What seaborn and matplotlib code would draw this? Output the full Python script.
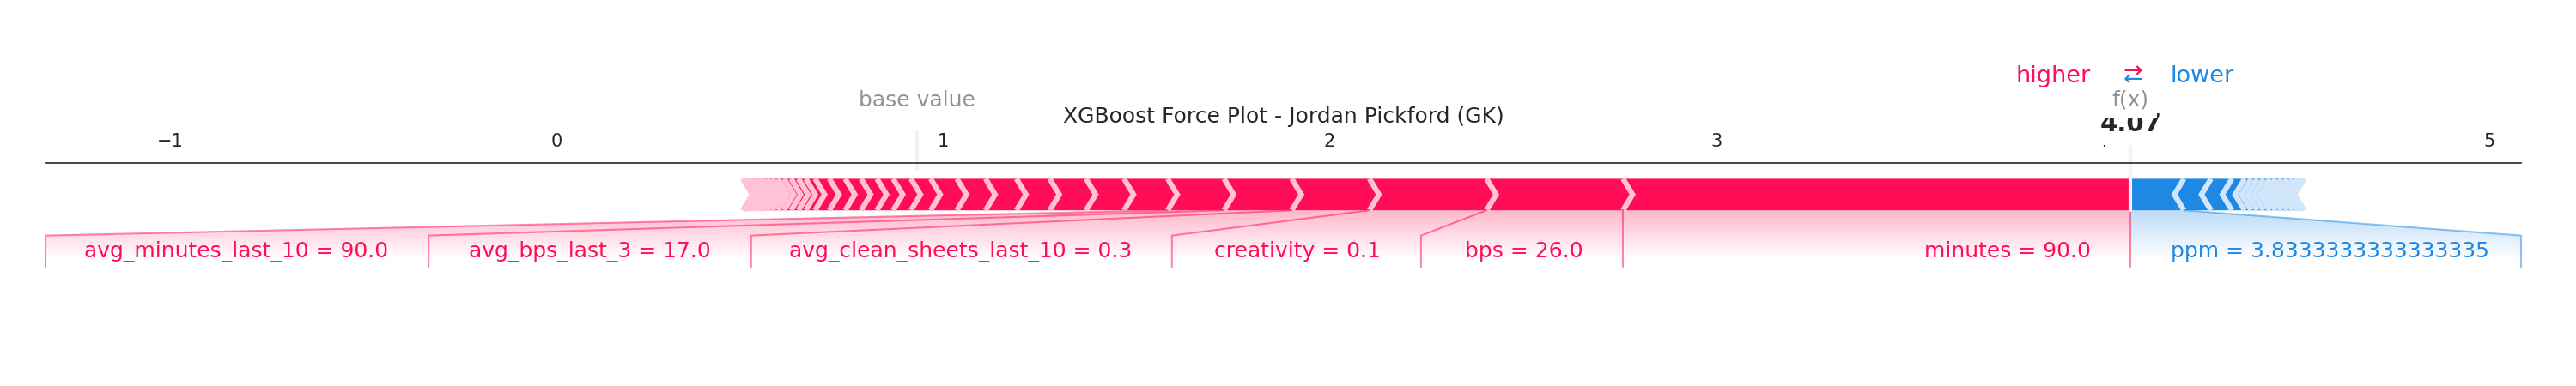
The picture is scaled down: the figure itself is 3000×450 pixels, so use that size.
import numpy as np
import matplotlib
matplotlib.use("Agg")
import matplotlib.pyplot as plt
import matplotlib.lines as lines
import matplotlib.colors as mcolors
from matplotlib.path import Path
from matplotlib.patches import PathPatch, Polygon
from matplotlib.font_manager import FontProperties
import seaborn as sns

# ---------------- data ----------------
TITLE = "XGBoost Force Plot - Jordan Pickford (GK)"
OUT_NAME = "f(x)"
BASE_VALUE = 0.932
OUT_VALUE = 4.072

# labelled features pushing the prediction higher
pos_names = ["minutes", "bps", "creativity", "avg_clean_sheets_last_10",
             "avg_bps_last_3", "avg_minutes_last_10"]
pos_values = ["90.0", "26.0", "0.1", "0.3", "17.0", "90.0"]
pos_effects = [1.313, 0.353, 0.303, 0.201, 0.175, 0.146]
# small unlabelled positive contributions
pos_minor_effects = [0.113, 0.098, 0.094, 0.086, 0.080, 0.074, 0.068, 0.051,
                     0.046, 0.042, 0.041, 0.041, 0.041, 0.037, 0.024, 0.019,
                     0.019, 0.018, 0.016, 0.015, 0.013, 0.012, 0.011, 0.010,
                     0.009, 0.008, 0.006, 0.004, 0.003]

# labelled features pushing the prediction lower
neg_names = ["ppm"]
neg_values = ["3.8333333333333335"]
neg_effects = [-0.138]
neg_minor_effects = [-0.070, -0.054, -0.033, -0.017, -0.016, -0.016, -0.016,
                     -0.015, -0.015, -0.015, -0.014, -0.013, -0.010, -0.007]

POS_COLORS = ["#FF0D57", "#FFC3D5"]
NEG_COLORS = ["#1E88E5", "#D1E6FA"]

# ---------------- style ----------------
sns.set_style("white")
plt.rcParams["font.family"] = ["DejaVu Sans"]


def build_features(effects, values, names, positive):
    feats = list(zip(effects, values, names))
    feats.sort(key=lambda f: f[0], reverse=positive)
    out = []
    cur = OUT_VALUE
    for eff, val, name in feats:
        if positive:
            cur = cur - abs(eff)
        else:
            cur = cur + abs(eff)
        out.append([cur, val, name])
    return out


pos_features = build_features(pos_effects + pos_minor_effects,
                              pos_values + [""] * len(pos_minor_effects),
                              pos_names + [""] * len(pos_minor_effects), True)
neg_features = build_features(neg_effects + neg_minor_effects,
                              neg_values + [""] * len(neg_minor_effects),
                              neg_names + [""] * len(neg_minor_effects), False)

pos_pos = np.array([f[0] for f in pos_features])
neg_pos = np.array([f[0] for f in neg_features])
total_pos = pos_pos.max() - pos_pos.min()
total_neg = neg_pos.max() - neg_pos.min()
offset_text = (abs(total_neg) + abs(total_pos)) * 0.04

fig, ax = plt.subplots(figsize=(20, 3), dpi=150)
fig.subplots_adjust(left=0.122, right=0.901)

# axis limits
ax.set_ylim(-0.5, 0.15)
padding = max(abs(total_pos) * 0.2, abs(total_neg) * 0.2)
min_x = min(pos_pos.min(), BASE_VALUE) - padding
max_x = max(neg_pos.max(), BASE_VALUE) + padding
ax.set_xlim(min_x, max_x)
ax.tick_params(top=True, bottom=False, left=False, right=False,
               labelleft=False, labeltop=True, labelbottom=False)
ax.locator_params(axis="x", nbins=12)
sns.despine(ax=ax, top=False, left=True, right=True, bottom=True)

width_bar = 0.1
width_separators = (ax.get_xlim()[1] - ax.get_xlim()[0]) / 200


def draw_bars(features, positive):
    rects, seps = [], []
    pre_val = OUT_VALUE
    for index, feat in enumerate(features):
        if positive:
            left_bound = feat[0]
            right_bound = pre_val
            pre_val = left_bound
            indent = abs(width_separators)
            sep_pos = left_bound
            colors = POS_COLORS
        else:
            left_bound = pre_val
            right_bound = feat[0]
            pre_val = right_bound
            indent = -abs(width_separators)
            sep_pos = right_bound
            colors = NEG_COLORS
        if index == 0:
            if positive:
                pts = [[left_bound, 0], [right_bound, 0], [right_bound, width_bar],
                       [left_bound, width_bar], [left_bound + indent, width_bar / 2]]
            else:
                pts = [[right_bound, 0], [left_bound, 0], [left_bound, width_bar],
                       [right_bound, width_bar], [right_bound + indent, width_bar / 2]]
        else:
            pts = [[left_bound, 0], [right_bound, 0],
                   [right_bound + indent * 0.9, width_bar / 2],
                   [right_bound, width_bar], [left_bound, width_bar],
                   [left_bound + indent * 0.9, width_bar / 2]]
        rects.append(Polygon(pts, closed=True, fill=True, facecolor=colors[0], linewidth=0))
        sep = [[sep_pos, 0], [sep_pos + indent, width_bar / 2], [sep_pos, width_bar]]
        seps.append(Polygon(sep, closed=None, fill=None, edgecolor=colors[1], lw=3))
    return rects, seps


for positive, feats in ((False, neg_features), (True, pos_features)):
    r, s = draw_bars(feats, positive)
    for p in r:
        ax.add_patch(p)
    for p in s:
        ax.add_patch(p)


def draw_labels(features, positive):
    if positive:
        colors = POS_COLORS
        align = "right"
        sign = 1
        x, y = np.array([[OUT_VALUE, OUT_VALUE], [0, -0.18]])
        ln = lines.Line2D(x, y, lw=1.0, alpha=0.5, color=colors[0])
        ln.set_clip_on(False)
        ax.add_line(ln)
    else:
        colors = NEG_COLORS
        align = "left"
        sign = -1
    start_text = OUT_VALUE
    pre_val = OUT_VALUE
    box_end = OUT_VALUE
    for feat in features:
        if feat[2] == "":
            break
        val = feat[0]
        text = feat[2] + " = " + feat[1]
        t = ax.text(start_text - sign * offset_text, -0.15, text, fontsize=12,
                    color=colors[0], horizontalalignment=align, va="baseline")
        t.set_bbox(dict(facecolor="none", edgecolor="none"))
        fig.canvas.draw()
        bb = t.get_bbox_patch().get_extents().transformed(ax.transData.inverted())
        box_end_ = bb.get_points()[0][0] if positive else bb.get_points()[1][0]
        if sign * box_end_ > sign * val:
            x, y = np.array([[val, val], [0, -0.18]])
            ln = lines.Line2D(x, y, lw=1.0, alpha=0.5, color=colors[0])
            ln.set_clip_on(False)
            ax.add_line(ln)
            start_text = val
            box_end = val
        else:
            box_end = box_end_ - sign * offset_text
            x, y = np.array([[val, box_end, box_end], [0, -0.08, -0.18]])
            ln = lines.Line2D(x, y, lw=1.0, alpha=0.5, color=colors[0])
            ln.set_clip_on(False)
            ax.add_line(ln)
            start_text = box_end
        pre_val = val

    extent = [OUT_VALUE, box_end, 0, -0.31]
    path = Path([[OUT_VALUE, 0], [pre_val, 0], [box_end, -0.08], [box_end, -0.2],
                 [OUT_VALUE, -0.2], [OUT_VALUE, 0]])
    patch = PathPatch(path, facecolor="none", edgecolor="none")
    ax.add_patch(patch)
    lo, hi = ax.get_xlim()
    if box_end < lo:
        ax.set_xlim(box_end, hi)
    if box_end > hi:
        ax.set_xlim(lo, box_end)
    rgb = np.array([mcolors.to_rgb(colors[0]), (1, 1, 1)])
    cm = mcolors.LinearSegmentedColormap.from_list("cm", rgb)
    _, Z2 = np.meshgrid(np.linspace(0, 10), np.linspace(-10, 10))
    im = ax.imshow(Z2, interpolation="quadric", cmap=cm, vmax=0.01, alpha=0.3,
                   origin="lower", extent=extent, clip_on=True, aspect="auto")
    im.set_clip_path(patch)


draw_labels(neg_features, False)
draw_labels(pos_features, True)

# higher / lower legend
ax.text(OUT_VALUE - offset_text, 0.405, "higher", fontsize=13, color=POS_COLORS[0],
        horizontalalignment="right")
ax.text(OUT_VALUE + offset_text, 0.405, "lower", fontsize=13, color=NEG_COLORS[0],
        horizontalalignment="left")
ax.text(OUT_VALUE, 0.4, r"$\leftarrow$", fontsize=13, color=NEG_COLORS[0],
        horizontalalignment="center")
ax.text(OUT_VALUE, 0.425, r"$\rightarrow$", fontsize=13, color=POS_COLORS[0],
        horizontalalignment="center")

# base value
x, y = np.array([[BASE_VALUE, BASE_VALUE], [0.13, 0.25]])
ln = lines.Line2D(x, y, lw=2.0, color="#F2F2F2")
ln.set_clip_on(False)
ax.add_line(ln)
t = ax.text(BASE_VALUE, 0.33, "base value", fontsize=12, alpha=0.5,
            horizontalalignment="center")
t.set_bbox(dict(facecolor="white", edgecolor="white"))

# output value
x, y = np.array([[OUT_VALUE, OUT_VALUE], [0, 0.24]])
ln = lines.Line2D(x, y, lw=2.0, color="#F2F2F2")
ln.set_clip_on(False)
ax.add_line(ln)
font = FontProperties(weight="bold")
t = ax.text(OUT_VALUE, 0.25, f"{OUT_VALUE:.2f}", fontproperties=font, fontsize=14,
            horizontalalignment="center")
t.set_bbox(dict(facecolor="white", edgecolor="white"))
t = ax.text(OUT_VALUE, 0.33, OUT_NAME, fontsize=12, alpha=0.5, horizontalalignment="center")
t.set_bbox(dict(facecolor="white", edgecolor="white"))

ax.set_title(TITLE)

# final layout
W, H = 3000.0, 450.0
left_px, right_px, top_px = 53.0, 2936.0, 190.0
height = 0.65 * 368.0
ax.set_position([left_px / W, 1 - (top_px + height) / H,
                 (right_px - left_px) / W, height / H])

fig.savefig("out.png", dpi=150)
